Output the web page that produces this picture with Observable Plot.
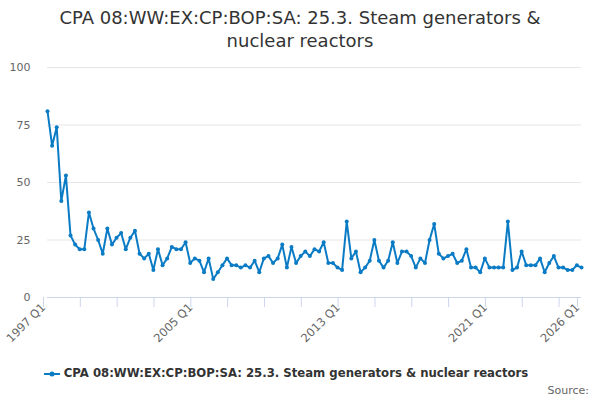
<!DOCTYPE html>
<html>
<head>
<meta charset="utf-8">
<script src="https://cdn.jsdelivr.net/npm/d3@7"></script>
<script src="https://cdn.jsdelivr.net/npm/@observablehq/plot@0.6"></script>
<style>
  html, body { margin: 0; padding: 0; background: #fff; }
  body { width: 600px; height: 400px; position: relative; overflow: hidden; font-family: "DejaVu Sans", sans-serif; }
  #title { position: absolute; top: 6px; left: 0; width: 600px; text-align: center; font-size: 18px; line-height: 23px; color: #333; }
  #chart { position: absolute; top: 55px; left: 0; }
  #legend { position: absolute; top: 366px; left: -14px; width: 600px; text-align: center; font-size: 11.7px; font-weight: bold; color: #333; }
  #legend svg { vertical-align: middle; margin-right: 4px; }
  #source { position: absolute; top: 384px; right: 11px; font-size: 11px; color: #666; }
</style>
</head>
<body>
<div id="title">CPA 08:WW:EX:CP:BOP:SA: 25.3. Steam generators &amp;<br>nuclear reactors</div>
<div id="chart"></div>
<div id="legend"><svg width="16" height="10"><line x1="0" y1="5" x2="16" y2="5" stroke="#0a7bc4" stroke-width="2"/><circle cx="8" cy="5" r="2.5" fill="#0a7bc4"/></svg>CPA 08:WW:EX:CP:BOP:SA: 25.3. Steam generators &amp; nuclear reactors</div>
<div id="source">Source:</div>
<script>
const startYear = 1997;
const values = [
  81,66,74,42,53,27,23,21,21,37,30,25,19,30,23,26,28,21,26,29,19,
  17,19,12,21,14,17,22,21,21,24,15,17,16,11,17,8,11,14,17,14,
  14,13,14,13,16,11,17,18,15,17,23,13,22,15,18,20,18,21,20,24,15,
  15,13,12,33,17,20,11,13,16,25,16,13,16,24,15,20,20,18,13,17,15,
  25,32,19,17,18,19,15,16,21,13,13,11,17,13,13,13,13,33,12,13,
  20,14,14,14,17,11,15,18,13,13,12,12,14,13
];
const yTicks = [0, 25, 50, 75, 100];
const xTickYears = [1997,1999,2001,2003,2005,2007,2009,2011,2013,2015,2017,2019,2021,2023,2025,2026];
const xLabelYears = [1997, 2005, 2013, 2021, 2026];

const data = values.map((v, i) => ({t: startYear + i / 4, value: v}));
const color = "#0a7bc4";

const chart = Plot.plot({
  width: 600,
  height: 300,
  marginLeft: 47,
  marginRight: 19,
  marginTop: 12,
  marginBottom: 58,
  style: {fontFamily: "DejaVu Sans, sans-serif", fontSize: "11px", color: "#666"},
  x: {domain: [1997, 2026]},
  y: {domain: [0, 100]},
  marks: [
    Plot.gridY(yTicks, {stroke: "#e6e6e6", strokeOpacity: 1}),
    Plot.axisY(yTicks, {tickSize: 0, tickPadding: 17, fill: "#666", fontSize: 11, label: null}),
    Plot.ruleY([0], {stroke: "#ccd6eb"}),
    Plot.axisX(xTickYears, {tickSize: 10, stroke: "#ccd6eb", strokeOpacity: 1, tickRotate: -45, tickPadding: -2, dx: -4, fontSize: 11.5,
      tickFormat: d => xLabelYears.includes(d) ? `${d} Q1` : "", fill: "#666", label: null}),
    Plot.line(data, {x: "t", y: "value", stroke: color, strokeWidth: 2}),
    Plot.dot(data, {x: "t", y: "value", fill: color, r: 2})
  ]
});
document.getElementById("chart").appendChild(chart);
</script>
</body>
</html>
